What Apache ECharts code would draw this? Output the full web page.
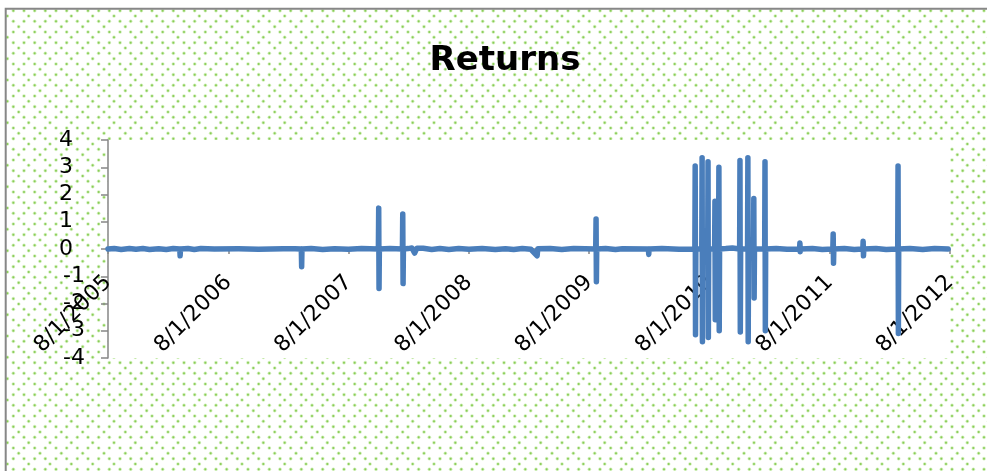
<!DOCTYPE html>
<html>
<head>
<meta charset="utf-8">
<script src="https://cdn.jsdelivr.net/npm/echarts@6/dist/echarts.min.js"></script>
<style>
html,body{margin:0;padding:0;background:#fff;}
#c{width:987px;height:471px;}
</style>
</head>
<body>
<div id="c"></div>
<script>
// ---- data ----
const dates = [
'2005-08-01','2005-08-20','2005-09-10','2005-10-05','2005-10-25','2005-11-15','2005-12-05','2006-01-02','2006-01-25','2006-02-15',
'2006-03-07','2006-03-08','2006-03-09','2006-04-01','2006-04-20','2006-05-10','2006-05-30','2006-06-20','2006-09-01','2006-11-01',
'2007-01-15','2007-02-20','2007-03-11','2007-03-12','2007-03-13','2007-04-10','2007-05-15','2007-06-20','2007-08-01','2007-09-10',
'2007-10-31','2007-11-01','2007-11-02','2007-11-03','2007-12-05','2008-01-12','2008-01-13','2008-01-14','2008-01-15','2008-01-30',
'2008-02-10','2008-02-18','2008-02-25','2008-03-15','2008-04-10','2008-05-05','2008-06-01','2008-07-01','2008-08-01','2008-09-10',
'2008-10-20','2008-11-20','2008-12-15','2009-01-10','2009-02-05','2009-02-24','2009-02-26','2009-04-05','2009-05-10','2009-06-15',
'2009-07-20','2009-08-21','2009-08-22','2009-08-23','2009-08-24','2009-09-20','2009-10-20','2009-11-10','2010-01-28','2010-01-29',
'2010-01-30','2010-03-10','2010-05-01','2010-06-18','2010-06-19','2010-06-20','2010-06-21','2010-07-09','2010-07-10','2010-07-11',
'2010-07-12','2010-07-27','2010-07-28','2010-07-29','2010-07-30','2010-08-17','2010-08-18','2010-08-19','2010-08-20','2010-08-29',
'2010-08-30','2010-08-31','2010-09-01','2010-09-20','2010-10-10','2010-11-01','2010-11-02','2010-11-03','2010-11-04','2010-11-25',
'2010-11-26','2010-11-27','2010-11-28','2010-12-13','2010-12-14','2010-12-15','2010-12-16','2011-01-16','2011-01-17','2011-01-18',
'2011-01-19','2011-02-20','2011-03-25','2011-05-02','2011-05-03','2011-05-04','2011-05-05','2011-06-10','2011-07-10','2011-08-11',
'2011-08-12','2011-08-13','2011-08-14','2011-09-15','2011-10-15','2011-11-10','2011-11-11','2011-11-12','2011-11-13','2011-12-20',
'2012-01-20','2012-02-24','2012-02-25','2012-02-26','2012-02-27','2012-04-01','2012-05-10','2012-06-15','2012-07-26'
];
const returns = [
0,0.015,-0.015,0.02,-0.01,0.015,-0.02,0.01,-0.015,0.015,
0,-0.25,0,0.02,-0.015,0.02,0.01,0,0.005,-0.005,
0.005,0.01,0,-0.65,0,0.015,-0.015,0.01,-0.01,0.015,
0,1.5,-1.45,0,0.015,0,1.28,-1.27,0,0.015,
0.04,-0.15,0.03,0.03,-0.015,0.02,-0.02,0.015,-0.01,0.015,
-0.015,0.01,-0.015,0.02,-0.01,-0.25,0.01,0.015,-0.015,0.02,
0.01,0,1.1,-1.2,0,0.015,-0.015,0.01,0,-0.2,
0,0.015,-0.01,0,3.05,-3.15,0,0,3.35,-3.4,
0,0,3.2,-3.25,0,0,1.75,-2.6,0,0,
3.0,-3.0,0,0.015,0.04,0,3.25,-3.05,0,0,
3.35,-3.4,0,0,1.85,-1.8,0,0,3.2,-3.0,
0,0.015,-0.01,0,0.22,-0.1,0,0.02,-0.015,0,
0.55,-0.52,0,0.02,-0.015,0,0.28,-0.25,0,0.02,
-0.015,0,3.05,-3.1,0,0.015,-0.02,0.02,0
];
const xTickLabels = ['8/1/2005','8/1/2006','8/1/2007','8/1/2008','8/1/2009','8/1/2010','8/1/2011','8/1/2012'];
const yTicks = [-4,-3,-2,-1,0,1,2,3,4];
const titleText = 'Returns';

// ---- helpers ----
const DAY = 86400000;
const origin = Date.UTC(2005,7,1);
const YEAR = 365.25;
function dayOffset(s){const p=s.split('-').map(Number);return (Date.UTC(p[0],p[1]-1,p[2])-origin)/DAY;}
const seriesData = dates.map((d,i)=>[dayOffset(d), returns[i]]);

// dotted background pattern
const tile = document.createElement('canvas');
tile.width = 64; tile.height = 64;
const g = tile.getContext('2d');
const s = 64/3;
const rel = [[2.67,0],[2.67+s/2,0],[2.67,s/2],[2.67+s/2,s/2],[18.67,s/4],[7.33,3*s/4]];
function dot(x,y){
  g.fillStyle='rgba(170,225,130,0.55)';
  g.beginPath();g.arc(x,y,1.8,0,Math.PI*2);g.fill();
  g.fillStyle='rgba(130,200,75,0.9)';
  g.beginPath();g.arc(x,y,1.0,0,Math.PI*2);g.fill();
}
for(let i=-1;i<=3;i++)for(let j=-1;j<=3;j++)rel.forEach(r=>dot(r[0]+i*s,r[1]+j*s));

const chart = echarts.init(document.getElementById('c'));
const font = 'DejaVu Sans';
const gridTop = 140, gridBottom = 113, H = 471;
const plotH = H - gridTop - gridBottom;
chart.setOption({
  animation:false,
  backgroundColor:'#fff',
  graphic:[{
    type:'rect', z:-100, silent:true,
    shape:{x:5.7,y:8.7,width:1200,height:700},
    style:{fill:{image:tile,repeat:'repeat'},stroke:'#878787',lineWidth:2}
  }],
  title:{
    text:titleText, left:500, top:39, textAlign:'center',
    textStyle:{fontFamily:font,fontWeight:'bold',fontSize:34,color:'#000'}
  },
  grid:{left:108,right:37,top:gridTop,bottom:gridBottom,show:true,backgroundColor:'#fff',borderWidth:0},
  xAxis:{
    type:'value', min:0, max:7*YEAR, interval:YEAR,
    position:'bottom', offset:-plotH/2,
    splitLine:{show:false},
    axisLine:{onZero:false,lineStyle:{color:'#868686',width:1.5}},
    axisTick:{show:true,length:5,lineStyle:{color:'#868686',width:1.5}},
    axisLabel:{
      rotate:45, margin:30, fontFamily:font, fontSize:22, color:'#000',
      formatter:function(v){return xTickLabels[Math.round(v/YEAR)]||'';}
    }
  },
  yAxis:{
    type:'value', min:yTicks[0], max:yTicks[yTicks.length-1], interval:1,
    splitLine:{show:false},
    axisLine:{show:true,onZero:false,lineStyle:{color:'#868686',width:1.5}},
    axisTick:{show:true,length:7,lineStyle:{color:'#868686',width:1.5}},
    axisLabel:{
      margin:23,
      formatter:function(v){return v>=0 ? '{p|'+v+'}' : '{n|'+v+'}';},
      rich:{
        p:{padding:[0,12,0,0],fontFamily:font,fontSize:22,color:'#000'},
        n:{fontFamily:font,fontSize:22,color:'#000'}
      }
    }
  },
  series:[{
    type:'line', data:seriesData, showSymbol:false, symbol:'none',
    lineStyle:{color:'#4a7ebb',width:5.5,cap:'round',join:'round'}
  }]
});
</script>
</body>
</html>
